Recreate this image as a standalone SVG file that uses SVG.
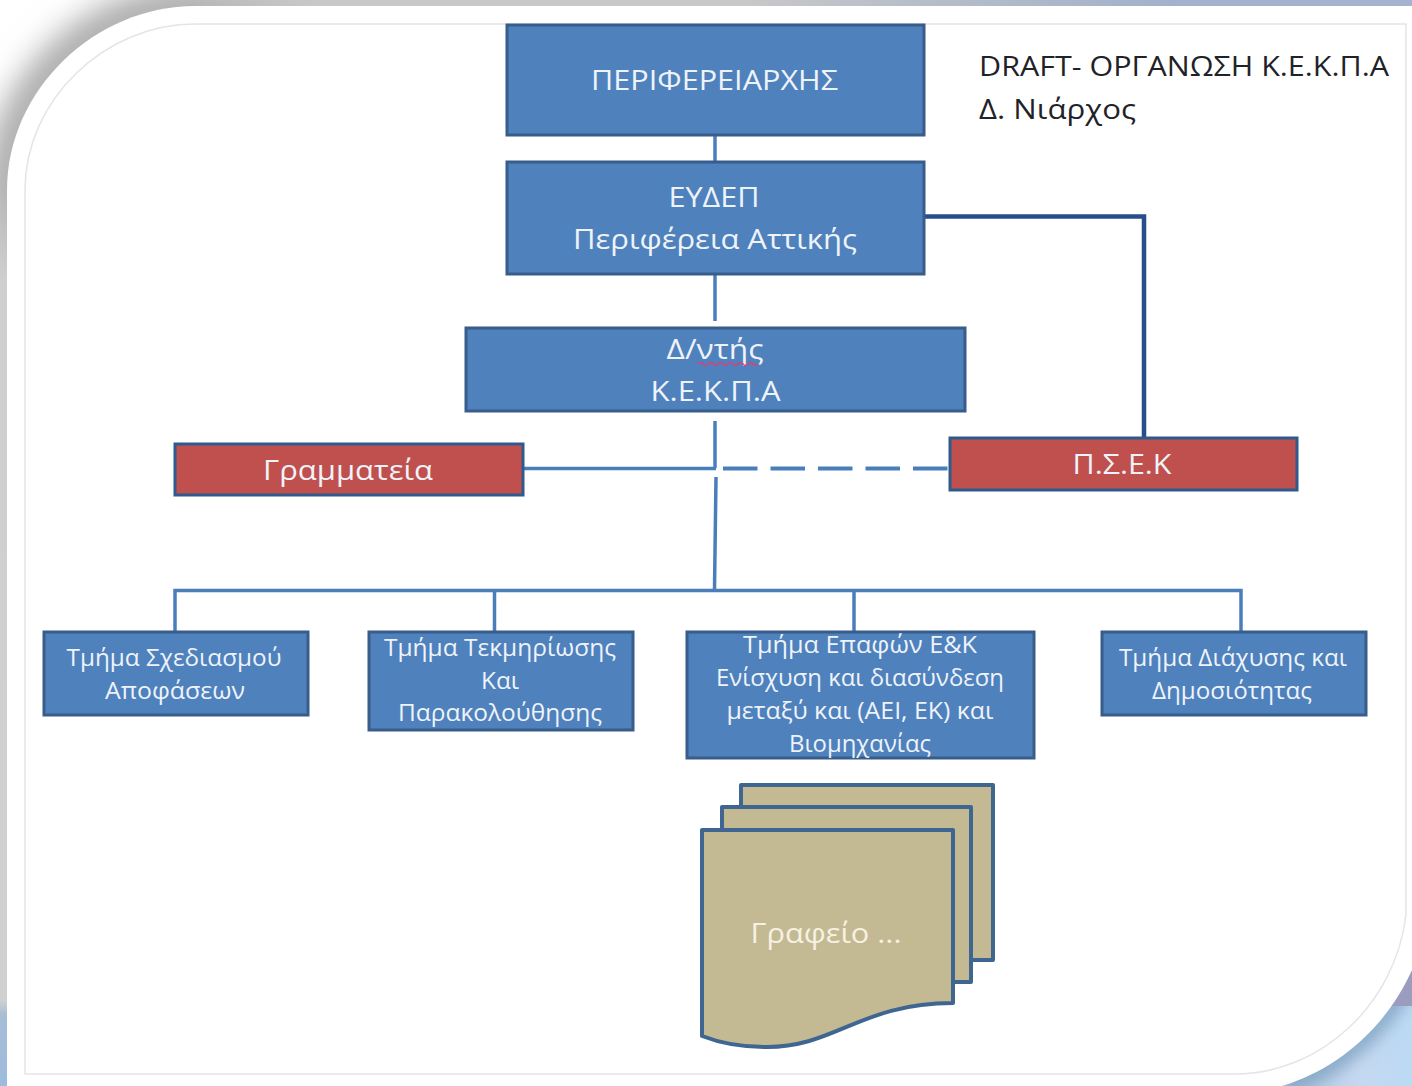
<svg xmlns="http://www.w3.org/2000/svg" width="1412" height="1086" viewBox="0 0 1412 1086">
<defs>
<linearGradient id="topG" x1="0" x2="1" y1="0" y2="0"><stop offset="0" stop-color="#c8c8c8" stop-opacity="0"/><stop offset="0.1" stop-color="#c8c8c8"/><stop offset="0.45" stop-color="#c8c8c8"/><stop offset="0.62" stop-color="#b4bcc8"/><stop offset="0.8" stop-color="#a2b2cc"/><stop offset="1" stop-color="#a4b4d0"/></linearGradient>
<linearGradient id="leftG" x1="0" x2="0" y1="0" y2="1"><stop offset="0" stop-color="#cfcfcf" stop-opacity="0"/><stop offset="0.1" stop-color="#cfcfcf"/><stop offset="0.905" stop-color="#d0d0d0"/><stop offset="0.92" stop-color="#a8bdd6"/><stop offset="1" stop-color="#9cbcdc"/></linearGradient>
<linearGradient id="brG" x1="0" x2="1" y1="0" y2="0"><stop offset="0" stop-color="#a9c3da"/><stop offset="0.6" stop-color="#c6d8f0"/><stop offset="1" stop-color="#bcdaf4"/></linearGradient>
<filter id="soft" x="-20%" y="-20%" width="140%" height="140%"><feGaussianBlur stdDeviation="16"/></filter>
<filter id="soft2" x="-30%" y="-30%" width="160%" height="160%"><feGaussianBlur stdDeviation="9"/></filter>
<clipPath id="brC"><rect x="1270" y="1006" width="142" height="80"/></clipPath>
</defs>
<style>
.b{fill:#4f81bd;stroke:#385d8a;stroke-width:3}
.r{fill:#c0504d;stroke:#2f5a8e;stroke-width:3}
.p{fill:#c3ba94;stroke:#3f6591;stroke-width:4;stroke-linejoin:round}
.t{font-family:"Open Sans","Noto Sans",sans-serif;font-weight:500;fill:#eef3f9;text-anchor:middle}
.l{fill:none;stroke:#4a7ebb;stroke-width:3.5}
.k{font-family:"Open Sans","Noto Sans",sans-serif;font-weight:500;fill:#1f2328;font-size:28px}
</style>
<g id="background">
<rect width="1412" height="1086" fill="#ffffff"/>
<path d="M7 1086V190C7 90 95 6 195 6H1412" fill="none" stroke="#a4a4a4" stroke-width="40" filter="url(#soft)"/>
<rect x="190" y="0" width="1222" height="6" fill="url(#topG)"/>
<rect x="0" y="190" width="7" height="896" fill="url(#leftG)"/>
<rect x="1270" y="960" width="142" height="126" fill="url(#brG)"/>
<path d="M1412 970V1006H1385Z" fill="#9c9cc0"/>
<g clip-path="url(#brC)"><path d="M1412 970C1385 1030 1335 1070 1282 1086" fill="none" stroke="#6f97b8" stroke-width="14" filter="url(#soft2)"/></g>
<path d="M7 1086V190C7 90 95 6 195 6H1412V970C1385 1030 1335 1070 1282 1086Z" fill="#ffffff"/>
<path d="M25 1074V190C25 100 105 24 195 24H1406V915C1395 1005 1320 1074 1235 1074Z" fill="none" stroke="#e4e4ea" stroke-width="1.5"/>
</g>
<g id="connectors">
<path class="l" d="M715 135V162"/>
<path class="l" d="M715 274V321"/>
<path class="l" d="M715 421V468"/>
<path class="l" d="M524 468.500H716"/>
<path class="l" d="M723 468.500H948" stroke-dasharray="34.500 13" style="stroke-width:4"/>
<path class="l" d="M716 477L714.500 590"/>
<path class="l" d="M175 632V590.500H1241V632"/>
<path class="l" d="M494.500 590V632"/>
<path class="l" d="M854 590V632"/>
<path d="M924 216.500H1144V438" fill="none" stroke="#264f8a" stroke-width="4.500"/>
</g>
<g id="n-periferiarchis">
<rect class="b" x="507" y="25" width="417" height="110"/>
<text class="t" x="714.500" y="90" font-size="28" textLength="247" lengthAdjust="spacingAndGlyphs">ΠΕΡΙΦΕΡΕΙΑΡΧΗΣ</text>
</g>
<g id="n-eydep">
<rect class="b" x="507" y="162" width="417" height="112"/>
<text class="t" x="714" y="207" font-size="28" textLength="91" lengthAdjust="spacingAndGlyphs">ΕΥΔΕΠ</text>
<text class="t" x="715" y="249" font-size="28" textLength="284" lengthAdjust="spacingAndGlyphs">Περιφέρεια Αττικής</text>
</g>
<g id="n-dntis">
<rect class="b" x="466" y="328" width="499" height="83"/>
<text class="t" x="715" y="359" font-size="28" textLength="97" lengthAdjust="spacingAndGlyphs">Δ/ντής</text>
<path d="M698 364q2.500 -3 5 0t5 0t5 0t5 0t5 0t5 0t5 0t5 0t5 0t5 0t5 0t5 0" fill="none" stroke="#d8407a" stroke-width="1.500"/>
<text class="t" x="715.500" y="401" font-size="28" textLength="130" lengthAdjust="spacingAndGlyphs">Κ.Ε.Κ.Π.Α</text>
</g>
<g id="n-grammateia">
<rect class="r" x="175" y="444" width="348" height="51"/>
<text class="t" x="348" y="480" font-size="28" textLength="170" lengthAdjust="spacingAndGlyphs">Γραμματεία</text>
</g>
<g id="n-psek">
<rect class="r" x="950" y="438" width="347" height="52"/>
<text class="t" x="1122" y="474" font-size="28" textLength="99" lengthAdjust="spacingAndGlyphs">Π.Σ.Ε.Κ</text>
</g>
<g id="n-sxediasmou">
<rect class="b" x="44" y="632" width="264" height="83"/>
<text class="t" x="174" y="666" font-size="24" textLength="215" lengthAdjust="spacingAndGlyphs">Τμήμα Σχεδιασμού</text>
<text class="t" x="175" y="699" font-size="24" textLength="140" lengthAdjust="spacingAndGlyphs">Αποφάσεων</text>
</g>
<g id="n-tekmiriosis">
<rect class="b" x="369" y="632" width="264" height="98"/>
<text class="t" x="500" y="656" font-size="24" textLength="232" lengthAdjust="spacingAndGlyphs">Τμήμα Τεκμηρίωσης</text>
<text class="t" x="500" y="689" font-size="24" textLength="38" lengthAdjust="spacingAndGlyphs">Και</text>
<text class="t" x="500" y="721" font-size="24" textLength="204" lengthAdjust="spacingAndGlyphs">Παρακολούθησης</text>
</g>
<g id="n-epafon">
<rect class="b" x="687" y="632" width="347" height="126"/>
<text class="t" x="860" y="653" font-size="24" textLength="234" lengthAdjust="spacingAndGlyphs">Τμήμα Επαφών  Ε&amp;Κ</text>
<text class="t" x="860" y="686" font-size="24" textLength="288" lengthAdjust="spacingAndGlyphs">Ενίσχυση και διασύνδεση</text>
<text class="t" x="860" y="719" font-size="24" textLength="267" lengthAdjust="spacingAndGlyphs">μεταξύ και  (ΑΕΙ, ΕΚ) και</text>
<text class="t" x="860" y="752" font-size="24" textLength="142" lengthAdjust="spacingAndGlyphs">Βιομηχανίας</text>
</g>
<g id="n-diachysis">
<rect class="b" x="1102" y="632" width="264" height="83"/>
<text class="t" x="1233" y="666" font-size="24" textLength="228" lengthAdjust="spacingAndGlyphs">Τμήμα Διάχυσης και</text>
<text class="t" x="1232" y="699" font-size="24" textLength="160" lengthAdjust="spacingAndGlyphs">Δημοσιότητας</text>
</g>
<g id="n-grafeio">
<path class="p" d="M741 828V785H993V960H972"/>
<path class="p" d="M722 828V807H971V982H953"/>
<path class="p" d="M702 830H953V1003C860 1003 835 1048 765 1047C740 1047 720 1043 702 1036Z"/>
<text class="t" x="826" y="943" font-size="28" textLength="151" lengthAdjust="spacingAndGlyphs" style="fill:#f6f1e2">Γραφείο ...</text>
</g>
<g id="n-draft">
<text class="k" x="979" y="76" textLength="410" lengthAdjust="spacingAndGlyphs">DRAFT- ΟΡΓΑΝΩΣΗ Κ.Ε.Κ.Π.Α</text>
<text class="k" x="979" y="119" textLength="157" lengthAdjust="spacingAndGlyphs">Δ. Νιάρχος</text>
</g>
</svg>
